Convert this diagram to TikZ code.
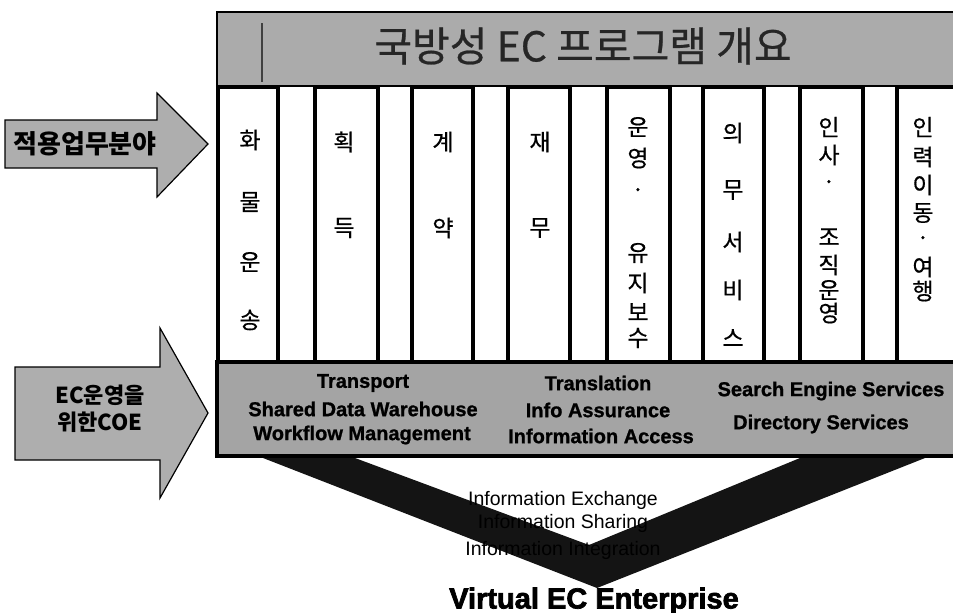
\documentclass[tikz,border=0pt]{standalone}
\usepackage{fontspec}
\setmainfont{Liberation Sans}
\newfontfamily\kr{Noto Sans CJK KR}
\newfontfamily\krmed[FakeBold=0.6]{Noto Sans CJK KR}
\newfontfamily\heavy[FakeBold=2.5]{Liberation Sans Bold}
\newfontfamily\barfont[FakeBold=1]{Liberation Sans Bold}
\definecolor{gbanner}{HTML}{ABABAB}
\definecolor{gbar}{HTML}{A4A4A4}
\definecolor{garrow}{HTML}{AEAEAE}
\definecolor{gdark}{HTML}{141414}
\tikzset{
  colbox/.style={draw=black, line width=3.5pt, fill=white},
  colchar/.style={font=\krmed\fontsize{23}{23}\selectfont, inner sep=0pt},
  bartext/.style={font=\barfont\fontsize{20}{20}\selectfont, inner sep=0pt},
  flowtext/.style={font=\fontsize{19.5}{19.5}\selectfont, inner sep=0pt},
  bigarrow/.style={fill=garrow, draw=black, line width=1.2pt, line join=miter},
  arrowtext/.style={font=\kr\bfseries\fontsize{26}{26}\selectfont, inner sep=0pt},
}
\begin{document}
\begin{tikzpicture}[x=1pt,y=-1pt]
\useasboundingbox (0,0) rectangle (953,613);
\clip (0,0) rectangle (953,613);
% banner
\path[fill=gbanner, draw=black, line width=1.2pt] (217,12) rectangle (970,86);
\draw[black!75, line width=1.5pt] (262,23) -- (262,82);
\node[font=\krmed\fontsize{41}{41}\selectfont, inner sep=0pt, text=black!85] (title) at (583,46) {국방성 EC 프로그램 개요};
% columns
\foreach \xa/\xb [count=\i] in {218/278,315/378,412/473,508/570,607/670,703/764,800/863,897/960}
  \path[colbox] (\xa,87) rectangle (\xb,362);
% column texts
\foreach \ch/\yy [count=\i] in {화/140,물/202,운/262,송/320}
  \node[colchar] (ca\i) at (250,\yy) {\ch};
\foreach \ch/\yy [count=\i] in {획/142,득/228}
  \node[colchar] (cb\i) at (344,\yy) {\ch};
\foreach \ch/\yy [count=\i] in {계/142,약/228}
  \node[colchar] (cc\i) at (443,\yy) {\ch};
\foreach \ch/\yy [count=\i] in {재/142,무/228}
  \node[colchar] (cd\i) at (540,\yy) {\ch};
\foreach \ch/\yy [count=\i] in {운/127,영/158,·/193,유/253,지/283,보/312,수/338}
  \node[colchar] (ce\i) at (638,\yy) {\ch};
\foreach \ch/\yy [count=\i] in {의/133,무/190,서/242,비/290,스/338}
  \node[colchar] (cf\i) at (733,\yy) {\ch};
\foreach \ch/\yy [count=\i] in {인/127,사/155,·/185,조/237,직/265,운/290,영/313}
  \node[colchar] (cg\i) at (829,\yy) {\ch};
\foreach \ch/\yy [count=\i] in {인/127,력/157,이/185,동/213,·/241,여/267,행/291}
  \node[colchar] (ch\i) at (923,\yy) {\ch};
% COE bar
\path[fill=gbar, draw=black, line width=3.5pt] (217,362) rectangle (970,456);
\node[bartext] (t1) at (363,383) {Transport};
\node[bartext] (t2) at (363,409) {Shared Data Warehouse};
\node[bartext] (t3) at (362,435) {Workflow Management};
\node[bartext] (t4) at (598,383) {Translation};
\node[bartext] (t5) at (598,410) {Info Assurance};
\node[bartext] (t6) at (601,436) {Information Access};
\node[bartext] (t7) at (831,391) {Search Engine Services};
\node[bartext] (t8) at (821,424) {Directory Services};
% left arrows
\path[bigarrow] (5,120) -- (157,120) -- (157,93) -- (208,144) -- (157,197) -- (157,168) -- (5,168) -- cycle;
\node[arrowtext] (a1) at (85,144) {적용업무분야};
\path[bigarrow] (15,367) -- (160,367) -- (160,328) -- (208,413) -- (160,498) -- (160,460) -- (15,460) -- cycle;
\node[font=\kr\bfseries\fontsize{22}{27}\selectfont, inner sep=0pt, align=center] (a2) at (100,409) {EC운영을\\위한COE};
% chevron
\path[fill=gdark] (263,458) -- (355,458) -- (589,545) -- (800,458) -- (925,458) -- (597,588) -- cycle;
\node[flowtext] (f1) at (563,500) {Information Exchange};
\node[flowtext] (f2) at (563,523) {Information Sharing};
\node[flowtext] (f3) at (563,550) {Information Integration};
\node[font=\heavy\fontsize{29}{29}\selectfont, inner sep=0pt] (vce) at (594,601) {Virtual EC Enterprise};
\end{tikzpicture}
\end{document}
